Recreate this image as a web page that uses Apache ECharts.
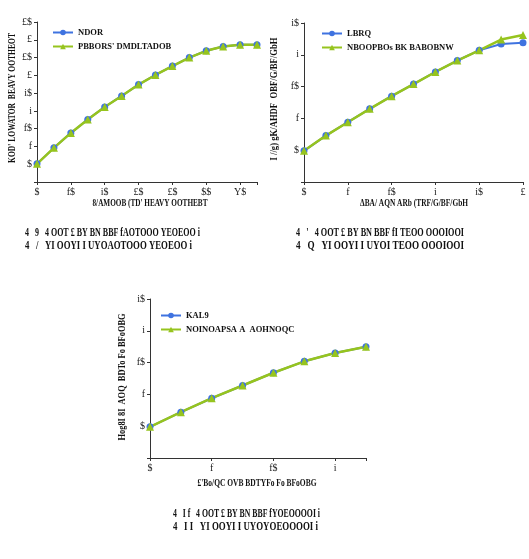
<!DOCTYPE html>
<html>
<head>
<meta charset="utf-8">
<script src="https://cdn.jsdelivr.net/npm/echarts@6/dist/echarts.min.js"></script>
<style>
  html, body { margin: 0; padding: 0; background: #fff; }
  #grafico { width: 529px; height: 559px; }
</style>
</head>
<body>
<div id="grafico"></div>
<script>
// panel 1
var x1 = [5, 10, 15, 20, 25, 30, 35, 40, 45, 50, 55, 60, 65, 70]
var azul1 = [0.51, 0.96, 1.38, 1.76, 2.11, 2.42, 2.74, 3.01, 3.26, 3.50, 3.69, 3.81, 3.86, 3.86]
var verde1 = [0.51, 0.96, 1.38, 1.76, 2.11, 2.42, 2.74, 3.01, 3.26, 3.50, 3.69, 3.81, 3.86, 3.86]
var ticksX1 = { 5: '$', 15: 'f$', 25: 'i$', 35: '£$', 45: '£$', 55: '$$', 65: 'Y$' }
var ticksY1 = { 0.5: '$', 1: 'f', 1.5: 'f$', 2: 'i', 2.5: 'i$', 3: '£', 3.5: '£$', 4: '£', 4.5: '£$' }
var leyenda1 = ['NDOR', "PBBORS' DMDLTADOB"]

// panel 2
var x2 = [0.5, 0.75, 1, 1.25, 1.5, 1.75, 2, 2.25, 2.5, 2.75, 3]
var azul2 = [0.49, 0.73, 0.94, 1.15, 1.35, 1.54, 1.73, 1.91, 2.07, 2.17, 2.19]
var verde2 = [0.49, 0.73, 0.94, 1.15, 1.35, 1.54, 1.73, 1.91, 2.07, 2.24, 2.31]
var ticksX2 = { 0.5: '$', 1: 'f', 1.5: 'f$', 2: 'i', 2.5: 'i$', 3: '£' }
var ticksY2 = { 0.5: '$', 1: 'f', 1.5: 'f$', 2: 'i', 2.5: 'i$' }
var leyenda2 = ['LBRQ', 'NBOOPBOs BK BABOBNW']

// panel 3
var x3 = [0.5, 0.75, 1, 1.25, 1.5, 1.75, 2, 2.25]
var azul3 = [0.49, 0.72, 0.94, 1.14, 1.34, 1.52, 1.65, 1.75]
var verde3 = [0.49, 0.72, 0.94, 1.14, 1.34, 1.52, 1.65, 1.75]
var ticksX3 = { 0.5: '$', 1: 'f', 1.5: 'f$', 2: 'i' }
var ticksY3 = { 0.5: '$', 1: 'f', 1.5: 'f$', 2: 'i', 2.5: 'i$' }
var leyenda3 = ['KAL9', 'NOINOAPSA A  AOHNOQC']

var nombresY = ["KOD' LOWATOR  BEAVY OOTHEOT", 'I //g) gK/AHDF  OBF/G/BF/GbH', 'Hog8I 8I  AOQ  BDTo Fo BFoOBG']
var nombresX = ["8/AMOOB (TD' HEAVY OOTHEBT", 'ΔBA/ AQN ARb (TRF/G/BF/GbH', "£'Bo/QC OVB BDTYFo Fo BFoOBG"]
var pies = [
  ['4   9   4 OOT £ BY BN BBF fAOTOOO YEOEOO i', '4   /   YI OOYI I UYOAOTOOO YEOEOO i'],
  ["4   '   4 OOT £ BY BN BBF fI TEOO OOOIOOI", '4   Q   YI OOYI I UYOI TEOO OOOIOOI'],
  ['4   I f   4 OOT £ BY BN BBF fYOEOOOOI i', '4   I I   YI OOYI I UYOYOEOOOOI i']
]

var AZUL = '#3f73e0'
var VERDE = '#96c41e'
var EJE = '#333'
var serif = 'Liberation Serif'

var ctx = document.createElement('canvas').getContext('2d')
function escala(texto, font, ancho) {
  ctx.font = font
  return ancho / ctx.measureText(texto).width
}

function pares(xs, ys) {
  return xs.map(function (x, i) { return [x, ys[i]] })
}

function ejeX(idx, min, max, interval, ticks) {
  return {
    gridIndex: idx, type: 'value', min: min, max: max, interval: interval,
    axisLine: { lineStyle: { color: EJE, width: 1 } },
    axisTick: { show: true, length: 3, lineStyle: { color: EJE } },
    splitLine: { show: false },
    axisLabel: {
      margin: 5, color: '#222', fontFamily: serif, fontSize: 10,
      formatter: function (v) { return ticks[v] || '' }
    }
  }
}

function ejeY(idx, max, ticks) {
  return {
    gridIndex: idx, type: 'value', min: 0, max: max, interval: 0.5,
    axisLine: { show: true, lineStyle: { color: EJE, width: 1 } },
    axisTick: { show: true, length: 3, lineStyle: { color: EJE } },
    splitLine: { show: false },
    axisLabel: {
      margin: 5, color: '#222', fontFamily: serif, fontSize: 10,
      formatter: function (v) { return ticks[v] || '' }
    }
  }
}

function serie(nombre, idx, datos, color, simbolo, tam, ancho) {
  return {
    name: nombre, type: 'line', xAxisIndex: idx, yAxisIndex: idx,
    data: datos, symbol: simbolo, symbolSize: tam, showSymbol: true,
    lineStyle: { color: color, width: ancho },
    itemStyle: { color: color }
  }
}

function leyenda(nombres, left, top) {
  return {
    data: nombres, orient: 'vertical', left: left, top: top,
    itemWidth: 20, itemHeight: 7, itemGap: 5, padding: 0,
    textStyle: { fontFamily: serif, fontSize: 8.5, color: '#111', fontWeight: 'bold' }
  }
}

// rotulo con ancho fijo (el texto original es muy condensado)
function rotulo(texto, cx, cy, ancho, girado) {
  var font = 'bold 11px "Liberation Serif"'
  return {
    type: 'text', x: cx, y: cy, rotation: girado ? Math.PI / 2 : 0,
    scaleX: escala(texto, font, ancho),
    style: { text: texto, font: font, fill: '#111', textAlign: 'center', textVerticalAlign: 'middle' }
  }
}

function textoPie(lineas, x, y, anchos) {
  var font = 'bold 12px "Liberation Serif"'
  return lineas.map(function (t, i) {
    return {
      type: 'text', x: x, y: y + i * 13, scaleX: escala(t, font, anchos[i]),
      style: { text: t, font: font, fill: '#111', textVerticalAlign: 'middle' }
    }
  })
}

var myChart = echarts.init(document.getElementById('grafico'))

var option = {
  backgroundColor: '#fff',
  animation: false,
  grid: [
    { left: 37, top: 22, width: 220, height: 160 },
    { left: 304, top: 23, width: 219, height: 159 },
    { left: 150, top: 299, width: 216, height: 159 }
  ],
  xAxis: [
    ejeX(0, 5, 70, 10, ticksX1),
    ejeX(1, 0.5, 3, 0.5, ticksX2),
    ejeX(2, 0.5, 2.25, 0.5, ticksX3)
  ],
  yAxis: [
    ejeY(0, 4.5, ticksY1),
    ejeY(1, 2.5, ticksY2),
    ejeY(2, 2.5, ticksY3)
  ],
  legend: [
    leyenda(leyenda1, 52, 28),
    leyenda(leyenda2, 321, 29),
    leyenda(leyenda3, 160, 311)
  ],
  series: [
    serie(leyenda1[0], 0, pares(x1, azul1), AZUL, 'circle', 7, 2),
    serie(leyenda1[1], 0, pares(x1, verde1), VERDE, 'triangle', 8, 2.5),
    serie(leyenda2[0], 1, pares(x2, azul2), AZUL, 'circle', 7, 2),
    serie(leyenda2[1], 1, pares(x2, verde2), VERDE, 'triangle', 8, 2.5),
    serie(leyenda3[0], 2, pares(x3, azul3), AZUL, 'circle', 7, 2),
    serie(leyenda3[1], 2, pares(x3, verde3), VERDE, 'triangle', 8, 2.5)
  ],
  graphic: [
    rotulo(nombresY[0], 12, 98, 130, true),
    rotulo(nombresY[1], 274, 99, 123, true),
    rotulo(nombresY[2], 122, 377, 127, true),
    rotulo(nombresX[0], 150, 203, 115, false),
    rotulo(nombresX[1], 414, 203, 108, false),
    rotulo(nombresX[2], 257, 483, 119, false)
  ].concat(
    textoPie(pies[0], 25, 233, [175, 167]),
    textoPie(pies[1], 296, 233, [168, 168]),
    textoPie(pies[2], 173, 514, [147, 145])
  )
}

myChart.setOption(option)
</script>
</body>
</html>
